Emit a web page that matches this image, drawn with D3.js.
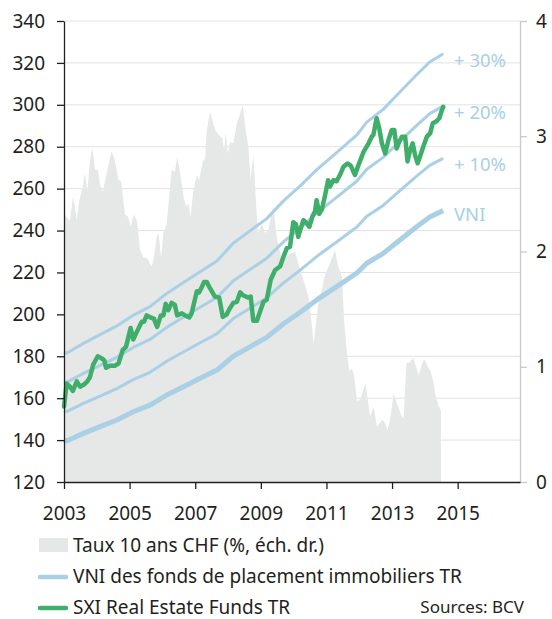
<!DOCTYPE html>
<html>
<head>
<meta charset="utf-8">
<script src="https://cdn.jsdelivr.net/npm/d3@7"></script>
<style>
  body { margin: 0; background: #fff; }
  svg { display: block; font-family: "Noto Sans", sans-serif; }
</style>
</head>
<body>
<svg width="552" height="619"></svg>
<script>
// chart data (decimal year, value)
var yearTicks = [2003, 2005, 2007, 2009, 2011, 2013, 2015];
var leftTicks = [120, 140, 160, 180, 200, 220, 240, 260, 280, 300, 320, 340];
var rightTicks = [0, 1, 2, 3, 4];

// VNI des fonds de placement immobiliers TR
var vni = [
  [2003.00,140],[2003.08,139.6],[2003.59,143.2],[2004.10,146.4],[2004.61,149.6],
  [2005.11,153.5],[2005.62,156.7],[2006.13,161.5],[2006.64,165.5],[2007.15,169.5],
  [2007.66,173.4],[2008.16,180],[2008.67,184.5],[2009.18,189],[2009.69,195.5],
  [2010.20,201],[2010.70,206.9],[2011.31,213.2],[2011.92,219.6],[2012.23,224.4],
  [2012.73,229.1],[2013.24,235.5],[2013.75,241.8],[2014.16,246.6],[2014.56,249.5]
];
var bands = [1.1, 1.2, 1.3];
var bandLabels = ["+ 10%", "+ 20%", "+ 30%"];

// SXI Real Estate Funds TR
var sxi = [
  [2003.00,156],[2003.08,167],[2003.18,165.5],[2003.27,163.5],[2003.39,168],[2003.49,165.5],
  [2003.61,166.5],[2003.71,168],[2003.79,170],[2003.89,176],[2004.03,180],[2004.15,179],
  [2004.23,178],[2004.28,174.5],[2004.40,175.5],[2004.55,175.5],[2004.66,176.5],[2004.79,183],
  [2004.89,184.5],[2005.03,193.5],[2005.11,188],[2005.23,192],[2005.37,196.5],[2005.44,196.5],
  [2005.52,199.5],[2005.64,198.5],[2005.74,198],[2005.84,194],[2005.95,199.5],[2006.03,199.5],
  [2006.10,205],[2006.18,202],[2006.28,205.5],[2006.38,204.5],[2006.45,199.5],[2006.59,200.5],
  [2006.69,199.5],[2006.82,198.5],[2006.89,200.5],[2007.05,211],[2007.12,210.5],[2007.20,213],
  [2007.27,215.5],[2007.35,215.5],[2007.45,212.5],[2007.60,208.5],[2007.73,208],[2007.84,198.8],
  [2007.96,200],[2008.06,203],[2008.16,205.5],[2008.27,206],[2008.37,210.5],[2008.47,209],
  [2008.62,208],[2008.69,208.5],[2008.77,197],[2008.88,197],[2008.98,201.5],[2009.08,206],
  [2009.18,207],[2009.30,216.5],[2009.43,221],[2009.59,223],[2009.69,227.5],[2009.79,231.5],
  [2009.89,232.3],[2009.99,244],[2010.07,243],[2010.14,237],[2010.20,240.3],[2010.30,245],
  [2010.40,243.4],[2010.48,241.8],[2010.58,247],[2010.65,249],[2010.70,254.5],[2010.78,248],
  [2010.86,250],[2010.96,257],[2011.05,264],[2011.11,261],[2011.21,264],[2011.31,263.5],
  [2011.41,266.5],[2011.52,270.5],[2011.64,272],[2011.74,271],[2011.87,266.5],[2011.97,271],
  [2012.13,277.5],[2012.28,281.5],[2012.38,284.8],[2012.43,285.6],[2012.53,293.6],[2012.61,288.8],
  [2012.69,281.6],[2012.79,276.8],[2012.89,283.2],[2012.99,288],[2013.07,288],[2013.14,279.2],
  [2013.22,282.4],[2013.30,284.8],[2013.40,284.8],[2013.47,273],[2013.55,278.4],[2013.63,281.6],
  [2013.70,276],[2013.78,272.1],[2013.85,275.2],[2013.95,280],[2014.06,284.8],[2014.16,286.4],
  [2014.24,291.2],[2014.34,292],[2014.44,293.6],[2014.52,297.5],[2014.56,299]
];

// Taux 10 ans CHF (%), right axis
var taux = [
  [2003.00,2.35],[2003.03,2.32],[2003.10,2.29],[2003.18,2.27],[2003.28,2.48],[2003.39,2.27],
  [2003.47,2.45],[2003.57,2.56],[2003.64,2.68],[2003.71,2.53],[2003.79,2.77],[2003.86,2.90],
  [2003.95,2.71],[2004.03,2.71],[2004.10,2.58],[2004.18,2.52],[2004.30,2.68],[2004.45,2.87],
  [2004.55,2.79],[2004.66,2.62],[2004.74,2.61],[2004.86,2.32],[2004.96,2.30],[2005.03,2.22],
  [2005.13,2.32],[2005.23,2.26],[2005.32,2.01],[2005.42,1.95],[2005.54,1.94],[2005.67,1.87],
  [2005.74,1.95],[2005.83,2.13],[2005.88,2.16],[2005.96,1.95],[2006.03,2.16],[2006.13,2.24],
  [2006.28,2.71],[2006.38,2.69],[2006.45,2.82],[2006.54,2.68],[2006.64,2.48],[2006.72,2.39],
  [2006.79,2.42],[2006.86,2.30],[2006.94,2.53],[2007.05,2.66],[2007.12,2.62],[2007.23,2.78],
  [2007.30,2.81],[2007.35,3.05],[2007.45,3.21],[2007.53,3.13],[2007.63,3.04],[2007.76,3.00],
  [2007.83,2.98],[2007.88,2.88],[2007.93,3.03],[2007.99,2.85],[2008.06,2.95],[2008.16,2.94],
  [2008.27,3.11],[2008.34,3.17],[2008.45,3.27],[2008.54,3.05],[2008.62,2.91],[2008.69,2.62],
  [2008.77,2.84],[2008.88,2.30],[2008.92,2.16],[2009.03,2.24],[2009.13,2.16],[2009.23,2.19],
  [2009.38,2.40],[2009.48,2.13],[2009.64,1.93],[2009.74,1.95],[2009.89,1.98],[2010.04,2.00],
  [2010.20,1.84],[2010.30,1.75],[2010.45,1.61],[2010.53,1.43],[2010.61,1.20],[2010.68,1.38],
  [2010.75,1.55],[2010.86,1.67],[2010.96,1.80],[2011.11,1.90],[2011.26,2.01],[2011.36,1.87],
  [2011.47,1.78],[2011.54,1.40],[2011.63,1.10],[2011.70,0.96],[2011.78,0.99],[2011.85,0.91],
  [2011.93,0.70],[2012.03,0.72],[2012.19,0.86],[2012.33,0.57],[2012.44,0.65],[2012.54,0.48],
  [2012.70,0.54],[2012.79,0.51],[2012.86,0.45],[2012.94,0.54],[2013.05,0.77],[2013.15,0.68],
  [2013.28,0.58],[2013.35,0.55],[2013.44,1.03],[2013.55,1.04],[2013.64,1.08],[2013.81,0.93],
  [2013.97,1.07],[2014.17,0.96],[2014.25,0.88],[2014.32,0.76],[2014.42,0.66],[2014.49,0.62]
];

var blue = "#a9d0e5",
    green = "#3fae6a",
    areaGrey = "#e6e7e7",
    dark = "#231f20";

var svg = d3.select("svg"),
    plotL = 64, plotR = 520, plotT = 21, plotB = 482,
    fs = 19;

var x = d3.scaleLinear().domain([2003, 2016.9]).range([plotL, plotR]);
var y = d3.scaleLinear().domain([120, 340]).range([plotB, plotT]);
var yR = d3.scaleLinear().domain([0, 4]).range([plotB, plotT]);

// gridlines
svg.append("g").selectAll("line")
    .data(leftTicks.slice(1))
  .enter().append("line")
    .attr("x1", plotL).attr("x2", plotR)
    .attr("y1", function(d) { return y(d); })
    .attr("y2", function(d) { return y(d); })
    .attr("stroke", "#e2e2e2")
    .attr("stroke-width", 1);

// rate area
var area = d3.area()
    .x(function(d) { return x(d[0]); })
    .y0(yR(0))
    .y1(function(d) { return yR(d[1]); });

svg.append("path")
    .datum(taux)
    .attr("fill", areaGrey)
    .attr("d", area);

var line = d3.line()
    .x(function(d) { return x(d[0]); })
    .y(function(d) { return y(d[1]); });

// VNI bands (+10/20/30%)
bands.forEach(function(f, i) {
  var d = vni.map(function(p) { return [p[0], p[1] * f]; });
  svg.append("path")
      .datum(d)
      .attr("fill", "none")
      .attr("stroke", blue)
      .attr("stroke-width", 3)
      .attr("stroke-linejoin", "round")
      .attr("d", line);
  var last = d[d.length - 1];
  svg.append("text")
      .attr("x", 454)
      .attr("y", y(last[1]) + 13)
      .attr("fill", blue)
      .attr("font-size", 18.5)
      .text(bandLabels[i]);
});

svg.append("path")
    .datum(vni)
    .attr("fill", "none")
    .attr("stroke", blue)
    .attr("stroke-width", 5)
    .attr("stroke-linejoin", "round")
    .attr("d", line);

var lastV = vni[vni.length - 1];
svg.append("text")
    .attr("x", 454)
    .attr("y", y(lastV[1]) + 10)
    .attr("fill", blue)
    .attr("font-size", 18.5)
    .text("VNI");

svg.append("path")
    .datum(sxi)
    .attr("fill", "none")
    .attr("stroke", green)
    .attr("stroke-width", 4.5)
    .attr("stroke-linejoin", "round")
    .attr("stroke-linecap", "round")
    .attr("d", line);

// axes
var gl = svg.append("g")
    .attr("transform", "translate(" + plotL + ",0)")
    .call(d3.axisLeft(y).tickValues(leftTicks).tickSize(7).tickPadding(12).tickSizeOuter(0));
gl.select(".domain").attr("stroke", dark).attr("stroke-width", 1.3);
gl.selectAll(".tick line").attr("stroke", dark).attr("stroke-width", 1.3);
gl.selectAll(".tick text").attr("fill", dark).attr("font-size", fs).attr("font-family", "Noto Sans");

var gr = svg.append("g")
    .attr("transform", "translate(" + plotR + ",0)")
    .call(d3.axisRight(yR).tickValues(rightTicks).tickFormat(d3.format("d")).tickSize(7).tickPadding(9).tickSizeOuter(0));
gr.select(".domain").attr("stroke", "#c9c9c9").attr("stroke-width", 1.3);
gr.selectAll(".tick line").attr("stroke", "#c9c9c9").attr("stroke-width", 1.3);
gr.selectAll(".tick text").attr("fill", dark).attr("font-size", fs).attr("font-family", "Noto Sans");

var gb = svg.append("g")
    .attr("transform", "translate(0," + plotB + ")")
    .call(d3.axisBottom(x).tickValues(yearTicks).tickFormat(d3.format("d")).tickSize(7).tickPadding(18).tickSizeOuter(0));
gb.select(".domain").attr("stroke", dark).attr("stroke-width", 1.3);
gb.selectAll(".tick line").attr("stroke", dark).attr("stroke-width", 1.3);
gb.selectAll(".tick text").attr("fill", dark).attr("font-size", fs).attr("font-family", "Noto Sans");

// legend
var legend = svg.append("g").attr("fill", dark).attr("font-size", fs);

legend.append("rect")
    .attr("x", 39).attr("y", 538).attr("width", 29).attr("height", 14)
    .attr("fill", areaGrey);
legend.append("text").attr("x", 73).attr("y", 552).text("Taux 10 ans CHF (%, éch. dr.)");

legend.append("line")
    .attr("x1", 40).attr("x2", 66).attr("y1", 577).attr("y2", 577)
    .attr("stroke", blue).attr("stroke-width", 4.5).attr("stroke-linecap", "round");
legend.append("text").attr("x", 73).attr("y", 583).text("VNI des fonds de placement immobiliers TR");

legend.append("line")
    .attr("x1", 40).attr("x2", 66).attr("y1", 608).attr("y2", 608)
    .attr("stroke", green).attr("stroke-width", 4.5).attr("stroke-linecap", "round");
legend.append("text").attr("x", 73).attr("y", 614).text("SXI Real Estate Funds TR");

svg.append("text")
    .attr("x", 524).attr("y", 613)
    .attr("text-anchor", "end")
    .attr("fill", dark)
    .attr("font-size", 17)
    .text("Sources: BCV");
</script>
</body>
</html>
